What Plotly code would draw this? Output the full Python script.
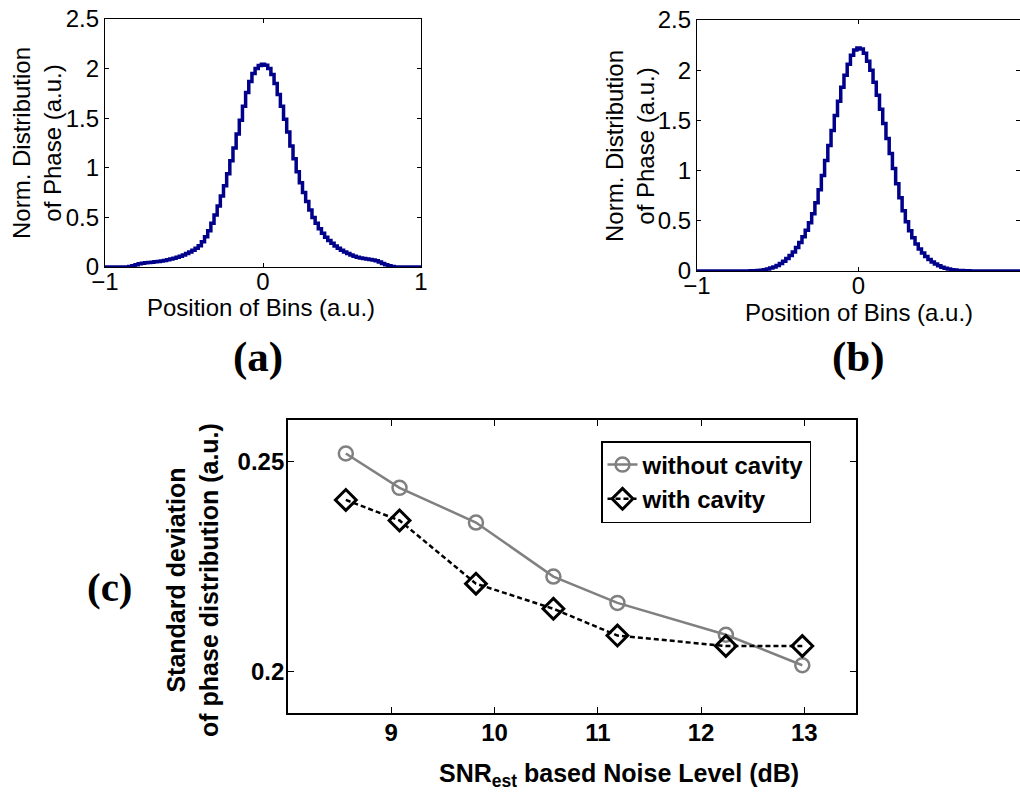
import plotly.graph_objects as go

# ---------------- data ----------------
bins = [round(-1.0 + 0.02 * k, 2) for k in range(101)]

dist_a = [0, 0, 0, 0, 0, 0, 0, 0, 0.005, 0.012,
          0.022, 0.032, 0.038, 0.043, 0.046, 0.049, 0.052, 0.055, 0.06, 0.066,
          0.072, 0.08, 0.088, 0.098, 0.108, 0.12, 0.135, 0.15, 0.168, 0.188,
          0.215, 0.255, 0.305, 0.365, 0.44, 0.525, 0.615, 0.715, 0.82, 0.94,
          1.07, 1.2, 1.34, 1.48, 1.62, 1.76, 1.87, 1.95, 2.0, 2.03,
          2.045,
          2.035, 2.0, 1.94, 1.85, 1.74, 1.62, 1.49, 1.36, 1.22, 1.09,
          0.96, 0.85, 0.75, 0.66, 0.575, 0.5, 0.44, 0.385, 0.34, 0.3,
          0.268, 0.24, 0.212, 0.19, 0.168, 0.15, 0.135, 0.12, 0.108, 0.098,
          0.09, 0.085, 0.08, 0.076, 0.07, 0.062, 0.05, 0.036, 0.022, 0.012,
          0.005, 0, 0, 0, 0, 0, 0, 0, 0, 0]

dist_b = [0, 0, 0, 0, 0, 0, 0, 0, 0, 0,
          0, 0, 0, 0, 0, 0, 0.001, 0.002, 0.003, 0.005,
          0.008, 0.013, 0.02, 0.03, 0.04, 0.055, 0.075, 0.098, 0.125, 0.155,
          0.19, 0.235, 0.285, 0.34, 0.405, 0.48, 0.57, 0.68, 0.81, 0.95,
          1.1, 1.25, 1.4, 1.55, 1.69, 1.83, 1.95, 2.06, 2.15, 2.2,
          2.22,
          2.21, 2.17, 2.09, 2.0, 1.88, 1.75, 1.61, 1.47, 1.32, 1.17,
          1.02, 0.87, 0.73, 0.6, 0.49, 0.4, 0.33, 0.27, 0.22, 0.18,
          0.145, 0.115, 0.09, 0.07, 0.052, 0.038, 0.027, 0.019, 0.013, 0.009,
          0.006, 0.004, 0.003, 0.002, 0.001, 0, 0, 0, 0, 0,
          0, 0, 0, 0, 0, 0, 0, 0, 0, 0]

snr_db = [8.56, 9.08, 9.82, 10.57, 11.19, 12.24, 12.98]
std_without = [0.252, 0.2438, 0.2355, 0.2226, 0.2163, 0.2087, 0.2014]
std_with = [0.2409, 0.2360, 0.2209, 0.2149, 0.2085, 0.2060, 0.2060]

ticks_ab_y = [0, 0.5, 1, 1.5, 2, 2.5]
ticks_ab_y_text = ["0", "0.5", "1", "1.5", "2", "2.5"]
ticks_ab_x = [-1, 0, 1]
ticks_c_x = [9, 10, 11, 12, 13]
ticks_c_y = [0.2, 0.25]

# ---------------- figure ----------------
W, H = 1020, 792
def px(x):
    return x / W
def py(y):
    return 1 - y / H

NAVY = "#00008B"
SANS = "Liberation Sans, Arial, sans-serif"
SERIF = "Liberation Serif, Times New Roman, serif"

fig = go.Figure()
fig.add_trace(go.Scatter(x=bins, y=dist_a, mode="lines", line=dict(color=NAVY, width=3.5, shape="hvh"),
                         xaxis="x", yaxis="y", showlegend=False))
fig.add_trace(go.Scatter(x=bins, y=dist_b, mode="lines", line=dict(color=NAVY, width=3.5, shape="hvh"),
                         xaxis="x2", yaxis="y2", showlegend=False))
fig.add_trace(go.Scatter(x=snr_db, y=std_without, mode="lines+markers", name="without cavity",
                         line=dict(color="#808080", width=2.5),
                         marker=dict(symbol="circle-open", size=14, color="#808080", line=dict(width=2.5)),
                         xaxis="x3", yaxis="y3"))
fig.add_trace(go.Scatter(x=snr_db, y=std_with, mode="lines+markers", name="with cavity",
                         line=dict(color="black", width=2.5, dash="5px,3px"),
                         marker=dict(symbol="diamond-open", size=16, color="black", line=dict(width=3)),
                         xaxis="x3", yaxis="y3"))

ax_common = dict(showline=True, linecolor="black", mirror="ticks", ticks="inside",
                 tickcolor="black", showgrid=False, zeroline=False, automargin=False)

fig.update_layout(
    template="none",
    width=W, height=H, margin=dict(l=0, r=0, t=0, b=0, autoexpand=False),
    paper_bgcolor="white", plot_bgcolor="white",
    xaxis=dict(domain=[px(105), px(421)], range=[-1, 1], tickvals=ticks_ab_x, anchor="y",
               linewidth=1.2, ticklen=4, ticklabelstandoff=-7,
               tickfont=dict(family=SANS, size=24, color="black"), **ax_common),
    yaxis=dict(domain=[py(267), py(19)], range=[0, 2.5], tickvals=ticks_ab_y, ticktext=ticks_ab_y_text,
               anchor="x", linewidth=1.2, ticklen=4,
               tickfont=dict(family=SANS, size=24, color="black"), **ax_common),
    xaxis2=dict(domain=[px(697), 1.0], range=[-1, 1], tickvals=ticks_ab_x, anchor="y2",
                linewidth=1.2, ticklen=4, ticklabelstandoff=-7,
                tickfont=dict(family=SANS, size=24, color="black"), **ax_common),
    yaxis2=dict(domain=[py(271), py(20)], range=[0, 2.5], tickvals=ticks_ab_y, ticktext=ticks_ab_y_text,
                anchor="x2", linewidth=1.2, ticklen=4,
                tickfont=dict(family=SANS, size=24, color="black"), **ax_common),
    xaxis3=dict(domain=[px(288), px(856)], range=[8, 13.5], tickvals=ticks_c_x, anchor="y3",
                linewidth=1.8, ticklen=6, ticklabelstandoff=-3,
                tickfont=dict(family=SANS, size=24, color="black", weight="bold"), **ax_common),
    yaxis3=dict(domain=[py(713), py(420)], range=[0.19, 0.26], tickvals=ticks_c_y, anchor="x3",
                linewidth=1.8, ticklen=6, ticklabelstandoff=-3,
                tickfont=dict(family=SANS, size=24, color="black", weight="bold"), **ax_common),
    legend=dict(x=px(601), y=py(441), xanchor="left", yanchor="top",
                bordercolor="black", borderwidth=1.5, bgcolor="white",
                font=dict(family=SANS, size=24, color="black", weight="bold"),
                tracegroupgap=0, itemwidth=30),
    showlegend=True,
)

annos = [
    dict(text="Norm. Distribution<br>of Phase (a.u.)", x=px(37), y=py(143), textangle=-90,
         font=dict(family=SANS, size=24, color="black")),
    dict(text="Position of Bins (a.u.)", x=px(261), y=py(308),
         font=dict(family=SANS, size=24, color="black")),
    dict(text="Norm. Distribution<br>of Phase (a.u.)", x=px(630), y=py(146), textangle=-90,
         font=dict(family=SANS, size=24, color="black")),
    dict(text="Position of Bins (a.u.)", x=px(859), y=py(312),
         font=dict(family=SANS, size=24, color="black")),
    dict(text="Standard deviation<br>of phase distribution (a.u.)", x=px(192), y=py(580), textangle=-90,
         font=dict(family=SANS, size=25, color="black", weight="bold")),
    dict(text="SNR<sub>est</sub> based Noise Level (dB)", x=px(619), y=py(775),
         font=dict(family=SANS, size=25, color="black", weight="bold")),
    dict(text="(a)", x=px(258), y=py(357), font=dict(family=SERIF, size=43, color="black", weight="bold")),
    dict(text="(b)", x=px(858), y=py(357), font=dict(family=SERIF, size=43, color="black", weight="bold")),
    dict(text="(c)", x=px(110), y=py(587), font=dict(family=SERIF, size=41, color="black", weight="bold")),
]
for a in annos:
    fig.add_annotation(xref="paper", yref="paper", showarrow=False, xanchor="center", yanchor="middle", **a)

fig.write_html("out.html", config={"displayModeBar": False},
               post_script="document.body.style.margin='0';document.body.style.overflow='hidden';")
